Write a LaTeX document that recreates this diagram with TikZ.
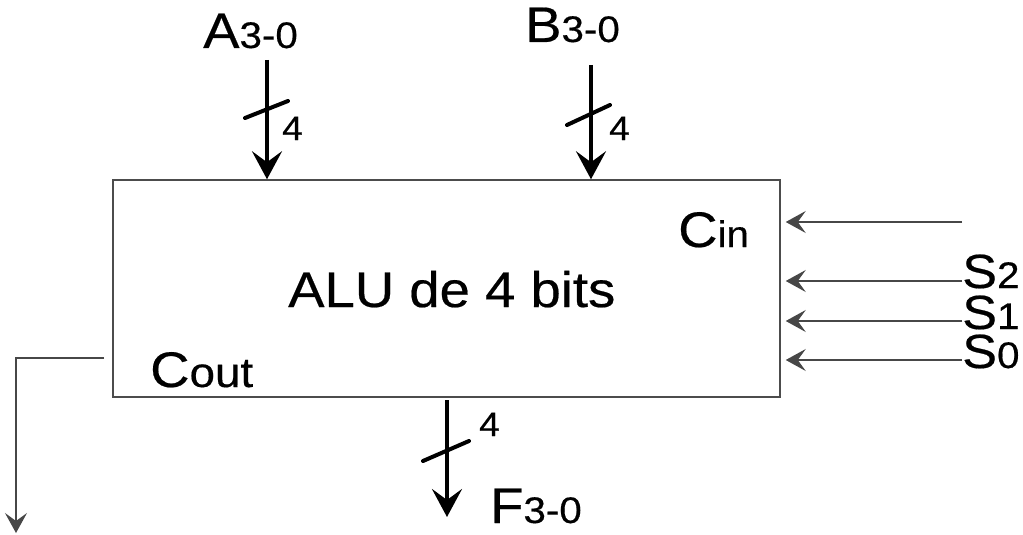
\documentclass[tikz,border=0pt]{standalone}
\usepackage{fontspec}
\setmainfont[FakeStretch=1.09, FakeBold=0.4]{Liberation Sans}
\usetikzlibrary{arrows.meta}
% type sizes: main letters, trailing indices, bus widths
\newcommand\mainsz{\fontsize{50}{50}\selectfont}
\newcommand\selsz{\fontsize{48}{48}\selectfont}
\newcommand\idxsz{\fontsize{37}{37}\selectfont}
\newcommand\widsz{\fontsize{34}{34}\selectfont}
\begin{document}
\begin{tikzpicture}[x=1pt,y=-1pt,
  label/.style={anchor=base west, inner sep=0pt, font=\mainsz},
  bus/.style={line width=3.6pt, -{Stealth[length=28pt,width=30pt,inset=11pt]}},
  sig/.style={line width=1.4pt, draw=black!72, -{Stealth[length=20pt,width=22pt,inset=8pt]}},
  slash/.style={line width=4pt, line cap=round},
  alubox/.style={draw=black!70, line width=1.5pt, minimum width=667pt, minimum height=217pt, inner sep=0pt}]
  \useasboundingbox (0,0) rectangle (1023,535);

  % the ALU block and its caption
  \node[alubox] (alu) at (446.5,288.5) {};
  \node[label] (alutxt) at (288,307) {ALU de 4 bits};

  % operand A bus
  \node[label] (lblA) at (203,48) {A\idxsz 3-0};
  \coordinate (ain) at (267,60);
  \draw[bus] (ain) -- (ain |- alu.north);
  \draw[slash] (245,118) -- (288,101);
  \node[label, font=\widsz] (wA) at (282,140) {4};

  % operand B bus
  \node[label] (lblB) at (525,42) {B\idxsz 3-0};
  \coordinate (bin) at (591,65);
  \draw[bus] (bin) -- (bin |- alu.north);
  \draw[slash] (567,125) -- (610,105);
  \node[label, font=\widsz] (wB) at (609,140) {4};

  % result F bus
  \coordinate (fout) at (447,400);
  \coordinate (fend) at (447,517);
  \draw[bus] (fout) -- (fend);
  \draw[slash] (423,461) -- (469,441);
  \node[label, font=\widsz] (wF) at (479,436) {4};
  \node[label] (lblF) at (490,523) {F\idxsz 3-0};

  % carry in and select inputs
  \node[label] (cin) at (678,247) {C\idxsz in};
  \coordinate (cinsrc) at (962,222);
  \draw[sig, shorten >=5pt] (cinsrc) -- (cinsrc -| alu.east);

  \node[label, font=\selsz] (s2) at (962,288) {S\idxsz 2};
  \node[label, font=\selsz] (s1) at (962,329) {S\idxsz 1};
  \node[label, font=\selsz] (s0) at (962,368) {S\idxsz 0};
  \coordinate (s2src) at (962,281);
  \coordinate (s1src) at (962,321);
  \coordinate (s0src) at (962,360);
  \draw[sig, shorten >=5pt] (s2src) -- (s2src -| alu.east);
  \draw[sig, shorten >=5pt] (s1src) -- (s1src -| alu.east);
  \draw[sig, shorten >=5pt] (s0src) -- (s0src -| alu.east);

  % carry out
  \node[label] (cout) at (150,387) {C\fontsize{42}{42}\selectfont out};
  \coordinate (coutsrc) at (104,358);
  \coordinate (coutend) at (16,533);
  \draw[sig] (coutsrc) -| (coutend);
\end{tikzpicture}
\end{document}
